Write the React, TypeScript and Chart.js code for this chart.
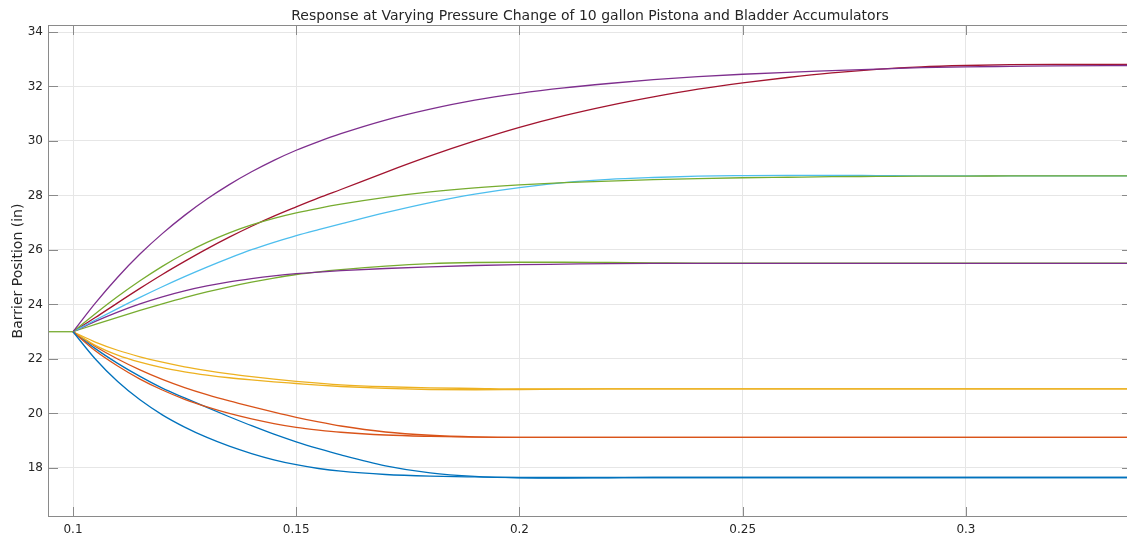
import { useEffect, useRef } from "react";
import { Chart, registerables } from "chart.js";

Chart.register(...registerables);

const TITLE = "Response at Varying Pressure Change of 10 gallon Pistona and Bladder Accumulators";
const Y_LABEL = "Barrier Position (in)";

const xTicks = [0.1, 0.15, 0.2, 0.25, 0.3];
const yTicks = [18, 20, 22, 24, 26, 28, 30, 32, 34];

// initial hold before the pressure change
const leadTime = [0.0944, 0.1];
const leadValue = [23, 23];

const time = [0.1, 0.105, 0.11, 0.115, 0.12, 0.125, 0.13, 0.135, 0.14, 0.145, 0.15, 0.155, 0.16, 0.17, 0.18, 0.19, 0.2, 0.21, 0.22, 0.23, 0.24, 0.25, 0.26, 0.27, 0.28, 0.29, 0.3, 0.31, 0.32, 0.3372];

const blueFast = [23, 22.0, 21.17, 20.5, 19.95, 19.5, 19.12, 18.8, 18.53, 18.3, 18.12, 17.98, 17.88, 17.76, 17.7, 17.67, 17.65, 17.65, 17.65, 17.65, 17.65, 17.65, 17.65, 17.65, 17.65, 17.65, 17.65, 17.65, 17.65, 17.65];
const orangeFast = [23, 22.3, 21.74, 21.26, 20.86, 20.52, 20.24, 20.0, 19.8, 19.63, 19.49, 19.39, 19.31, 19.21, 19.16, 19.13, 19.12, 19.12, 19.12, 19.12, 19.12, 19.12, 19.12, 19.12, 19.12, 19.12, 19.12, 19.12, 19.12, 19.12];
const yellowFast = [23, 22.5, 22.14, 21.88, 21.68, 21.53, 21.41, 21.31, 21.23, 21.16, 21.1, 21.04, 20.99, 20.92, 20.88, 20.87, 20.88, 20.89, 20.9, 20.9, 20.9, 20.9, 20.9, 20.9, 20.9, 20.9, 20.9, 20.9, 20.9, 20.9];
const purpleHigh = [23, 24.05, 25.0, 25.85, 26.6, 27.27, 27.87, 28.4, 28.87, 29.29, 29.66, 29.98, 30.27, 30.77, 31.17, 31.5, 31.75, 31.95, 32.11, 32.25, 32.36, 32.45, 32.52, 32.58, 32.64, 32.69, 32.72, 32.74, 32.76, 32.77];
const greenHigh = [23, 23.66, 24.29, 24.87, 25.4, 25.87, 26.28, 26.63, 26.92, 27.16, 27.36, 27.53, 27.68, 27.93, 28.13, 28.28, 28.39, 28.47, 28.53, 28.58, 28.62, 28.65, 28.67, 28.69, 28.7, 28.71, 28.71, 28.72, 28.72, 28.72];
const cyanHigh = [23, 23.43, 23.85, 24.26, 24.65, 25.02, 25.37, 25.7, 26.01, 26.28, 26.53, 26.75, 26.96, 27.37, 27.74, 28.05, 28.29, 28.47, 28.59, 28.66, 28.71, 28.73, 28.74, 28.74, 28.73, 28.72, 28.72, 28.72, 28.72, 28.72];
const redHigh = [23, 23.52, 24.06, 24.59, 25.1, 25.58, 26.04, 26.47, 26.87, 27.24, 27.58, 27.91, 28.22, 28.85, 29.45, 30.0, 30.5, 30.93, 31.3, 31.62, 31.9, 32.13, 32.33, 32.5, 32.63, 32.72, 32.77, 32.8, 32.81, 32.81];
const blueSlow = [23, 22.38, 21.84, 21.36, 20.93, 20.57, 20.22, 19.88, 19.55, 19.24, 18.96, 18.71, 18.48, 18.08, 17.82, 17.69, 17.64, 17.63, 17.64, 17.65, 17.65, 17.65, 17.65, 17.65, 17.65, 17.65, 17.65, 17.65, 17.65, 17.65];
const orangeSlow = [23, 22.46, 22.0, 21.6, 21.25, 20.95, 20.69, 20.46, 20.25, 20.05, 19.86, 19.69, 19.54, 19.32, 19.2, 19.14, 19.12, 19.12, 19.12, 19.12, 19.12, 19.12, 19.12, 19.12, 19.12, 19.12, 19.12, 19.12, 19.12, 19.12];
const yellowSlow = [23, 22.62, 22.32, 22.08, 21.88, 21.71, 21.57, 21.45, 21.35, 21.26, 21.18, 21.11, 21.05, 20.98, 20.94, 20.92, 20.9, 20.9, 20.9, 20.9, 20.9, 20.9, 20.9, 20.9, 20.9, 20.9, 20.9, 20.9, 20.9, 20.9];
const purpleLow = [23, 23.38, 23.72, 24.02, 24.28, 24.5, 24.68, 24.83, 24.95, 25.05, 25.13, 25.19, 25.24, 25.32, 25.38, 25.43, 25.46, 25.48, 25.5, 25.51, 25.51, 25.51, 25.51, 25.51, 25.51, 25.51, 25.51, 25.51, 25.51, 25.51];
const greenLow = [23, 23.27, 23.53, 23.78, 24.02, 24.25, 24.46, 24.65, 24.82, 24.97, 25.1, 25.2, 25.28, 25.41, 25.5, 25.54, 25.55, 25.55, 25.54, 25.53, 25.52, 25.52, 25.52, 25.52, 25.52, 25.52, 25.52, 25.52, 25.52, 25.52];

const seriesList: [number[], string][] = [
  [blueFast, "#0072BD"],
  [orangeFast, "#D95319"],
  [yellowFast, "#EDB120"],
  [purpleHigh, "#7E2F8E"],
  [greenHigh, "#77AC30"],
  [cyanHigh, "#4DBEEE"],
  [redHigh, "#A2142F"],
  [blueSlow, "#0072BD"],
  [orangeSlow, "#D95319"],
  [yellowSlow, "#EDB120"],
  [purpleLow, "#7E2F8E"],
  [greenLow, "#77AC30"],
];

const X_MIN = 0.0944;
const X_MAX = 0.3372;
const Y_MIN = 16.2;
const Y_MAX = 34.257;

const FONT = '"DejaVu Sans", Verdana, sans-serif';

const framePlugin = {
  id: "frame",
  afterDatasetsDraw(chart: any) {
    const { ctx, chartArea, scales } = chart;
    const { left, right, top, bottom } = chartArea;
    const xs = scales.x;
    const ys = scales.y;
    const tl = 10;
    ctx.save();
    ctx.strokeStyle = "#8a8a8a";
    ctx.lineWidth = 1;
    ctx.strokeRect(Math.round(left) + 0.5, Math.round(top) + 0.5, Math.round(right - left) - 1, Math.round(bottom - top) - 1);
    ctx.beginPath();
    for (const t of xTicks) {
      const px = Math.round(xs.getPixelForValue(t)) + 0.5;
      ctx.moveTo(px, bottom);
      ctx.lineTo(px, bottom - tl);
      ctx.moveTo(px, top);
      ctx.lineTo(px, top + tl);
    }
    for (const t of yTicks) {
      const py = Math.round(ys.getPixelForValue(t)) + 0.5;
      ctx.moveTo(left, py);
      ctx.lineTo(left + tl, py);
      ctx.moveTo(right, py);
      ctx.lineTo(right - tl, py);
    }
    ctx.stroke();
    ctx.fillStyle = "#262626";
    ctx.font = `14px ${FONT}`;
    ctx.textAlign = "center";
    ctx.textBaseline = "alphabetic";
    ctx.fillText(TITLE, (left + right) / 2, 20);
    ctx.restore();
  },
};

export default function App() {
  const ref = useRef<HTMLCanvasElement>(null);
  useEffect(() => {
    document.body.style.margin = "0";
    document.body.style.overflow = "hidden";
    document.body.style.background = "#ffffff";
    const curveSets = seriesList.map(([vals, color]) => ({
      data: time.map((t, i) => ({ x: t, y: vals[i] })),
      borderColor: color,
      backgroundColor: color,
      borderWidth: 1.3,
      pointRadius: 0,
      fill: false,
      cubicInterpolationMode: "monotone" as const,
    }));
    const leadSet = {
      data: leadTime.map((t, i) => ({ x: t, y: leadValue[i] })),
      borderColor: "#77AC30",
      backgroundColor: "#77AC30",
      borderWidth: 1.3,
      pointRadius: 0,
      fill: false,
    };
    const chart = new Chart(ref.current as HTMLCanvasElement, {
      type: "line",
      data: { datasets: [leadSet, ...curveSets] },
      options: {
        responsive: false,
        animation: false,
        devicePixelRatio: 1,
        layout: { padding: { top: 25, right: 2, left: 0, bottom: 0 } },
        plugins: {
          legend: { display: false },
          title: { display: false },
          tooltip: { enabled: false },
        },
        scales: {
          x: {
            type: "linear",
            min: X_MIN,
            max: X_MAX,
            afterBuildTicks: (scale: any) => {
              scale.ticks = xTicks.map((v) => ({ value: v }));
            },
            afterFit: (scale: any) => {
              scale.height = 22;
            },
            grid: { color: "#e6e6e6", drawTicks: false, lineWidth: 1 },
            border: { display: false },
            ticks: {
              autoSkip: false,
              maxRotation: 0,
              padding: 6,
              color: "#262626",
              font: { family: FONT, size: 12 },
              callback: (v: any) => String(Number(v)),
            },
          },
          y: {
            type: "linear",
            min: Y_MIN,
            max: Y_MAX,
            afterBuildTicks: (scale: any) => {
              scale.ticks = yTicks.map((v) => ({ value: v }));
            },
            afterFit: (scale: any) => {
              scale.width = 48;
            },
            grid: { color: "#e6e6e6", drawTicks: false, lineWidth: 1 },
            border: { display: false },
            ticks: {
              autoSkip: false,
              padding: 5,
              color: "#262626",
              font: { family: FONT, size: 12 },
              callback: (v: any) => String(Number(v)),
            },
            title: {
              display: true,
              text: Y_LABEL,
              color: "#262626",
              font: { family: FONT, size: 14 },
              padding: { top: 10, bottom: 0 },
            },
          },
        },
      },
      plugins: [framePlugin],
    });
    return () => chart.destroy();
  }, []);
  return (
    <canvas
      ref={ref}
      width={1134}
      height={539}
      style={{ display: "block", width: 1134, height: 539 }}
    />
  );
}
